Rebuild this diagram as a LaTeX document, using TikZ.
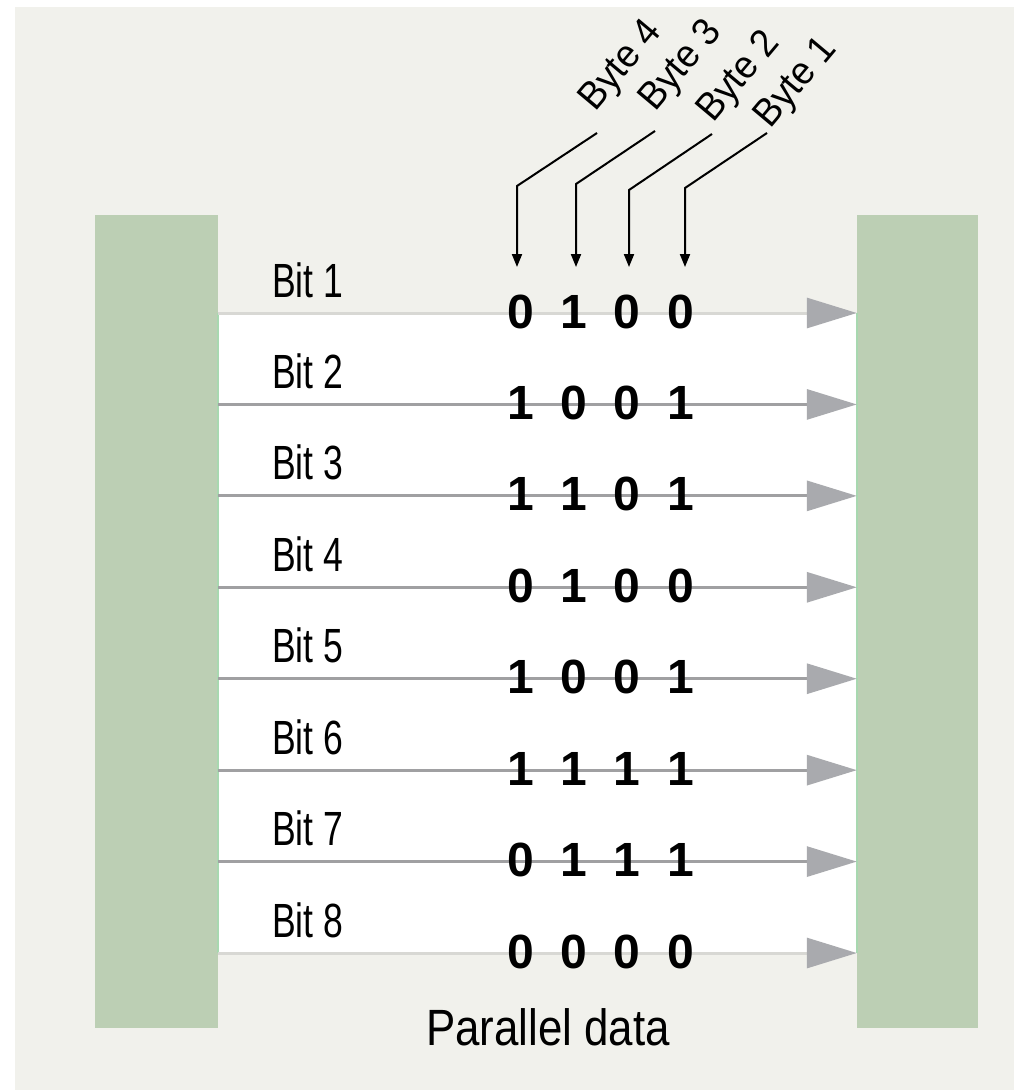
\documentclass[tikz,border=0pt]{standalone}
\usepackage{fontspec}
\setmainfont{Liberation Sans}
\newfontfamily\bitfont[FakeStretch=0.74]{Liberation Sans}
\newfontfamily\pdfont[FakeStretch=0.86]{Liberation Sans}
\newfontfamily\bytefont[FakeStretch=0.95]{Liberation Sans}
\usetikzlibrary{arrows.meta}
\definecolor{bg}{HTML}{F1F1EC}
\definecolor{barc}{HTML}{BCCFB4}
\definecolor{baredge}{HTML}{A8D8B0}
\definecolor{wirec}{HTML}{A0A0A2}
\definecolor{edgec}{HTML}{D8D8D4}
\definecolor{headc}{HTML}{A9AAAE}
\begin{document}
\begin{tikzpicture}[x=1pt,y=-1pt,
  barbox/.style={fill=barc, draw=none, minimum width=123pt, minimum height=813pt, inner sep=0pt},
  wire/.style={draw=wirec, line width=3pt, -{Triangle[length=50pt,width=30pt,color=headc]}},
  edgewire/.style={draw=edgec, line width=3pt, -{Triangle[length=50pt,width=30pt,color=headc]}},
  bitlabel/.style={anchor=base west, inner sep=0pt, font=\bitfont\fontsize{48}{50}\selectfont},
  digit/.style={anchor=base, inner sep=0pt, font=\bfseries\fontsize{48}{50}\selectfont},
  bytelabel/.style={anchor=base west, inner sep=0pt, rotate=50, font=\bytefont\fontsize{39}{41}\selectfont},
  bytearrow/.style={draw=black, line width=2pt, -{Triangle[length=13pt,width=10pt]}},
  pdlabel/.style={anchor=base, inner sep=0pt, font=\pdfont\fontsize{51}{53}\selectfont}
]
\useasboundingbox (0,0) rectangle (1014,1090);
\fill[bg] (15,7) rectangle (1014,1090);
% sender and receiver
\node[barbox] (L) at (156.5,621.5) {};
\node[barbox, minimum width=121pt] (R) at (917.5,621.5) {};
% white channel area
\fill[white] (L.east |- 0,313) rectangle (R.west |- 0,953);
\draw[baredge, line width=2pt] (L.east |- 0,313) -- (L.east |- 0,953);
\draw[baredge, line width=2pt] (R.west |- 0,313) -- (R.west |- 0,953);
% wire coordinates
\foreach \r in {1,...,8}{
  \pgfmathsetmacro\yy{313+(\r-1)*91.43}
  \coordinate (w\r) at (0,\yy);
}
% wires
\draw[edgewire] (L.east |- w1) -- (R.west |- w1);
\foreach \r in {2,...,7}{
  \draw[wire] (L.east |- w\r) -- (R.west |- w\r);
}
\draw[edgewire] (L.east |- w8) -- (R.west |- w8);
% bit labels and digits
\foreach \r/\a/\b/\c/\d in {1/0/1/0/0, 2/1/0/0/1, 3/1/1/0/1, 4/0/1/0/0,
                            5/1/0/0/1, 6/1/1/1/1, 7/0/1/1/1, 8/0/0/0/0}{
  \node[bitlabel] (bit\r) at ([yshift=16pt]272,0 |- w\r) {Bit \r};
  \node[digit] (d\r-1) at ([yshift=-15pt]521,0 |- w\r) {\a};
  \node[digit] (d\r-2) at ([yshift=-15pt]574,0 |- w\r) {\b};
  \node[digit] (d\r-3) at ([yshift=-15pt]627,0 |- w\r) {\c};
  \node[digit] (d\r-4) at ([yshift=-15pt]681,0 |- w\r) {\d};
}
% byte labels
\node[bytelabel] (B4) at (595,113) {Byte 4};
\node[bytelabel] (B3) at (655,113) {Byte 3};
\node[bytelabel] (B2) at (713,124) {Byte 2};
\node[bytelabel] (B1) at (770,130) {Byte 1};
% byte arrows
\coordinate (e4) at (597,133); \coordinate (k4) at (517,186); \coordinate (t4) at (517,267);
\coordinate (e3) at (655,131); \coordinate (k3) at (576,184); \coordinate (t3) at (576,267);
\coordinate (e2) at (712,134); \coordinate (k2) at (629,190); \coordinate (t2) at (629,267);
\coordinate (e1) at (767,133); \coordinate (k1) at (685,188); \coordinate (t1) at (685,267);
\draw[bytearrow] (e4) -- (k4) -- (t4);
\draw[bytearrow] (e3) -- (k3) -- (t3);
\draw[bytearrow] (e2) -- (k2) -- (t2);
\draw[bytearrow] (e1) -- (k1) -- (t1);
% caption
\node[pdlabel] (pd) at (548,1045) {Parallel data};
\end{tikzpicture}
\end{document}
